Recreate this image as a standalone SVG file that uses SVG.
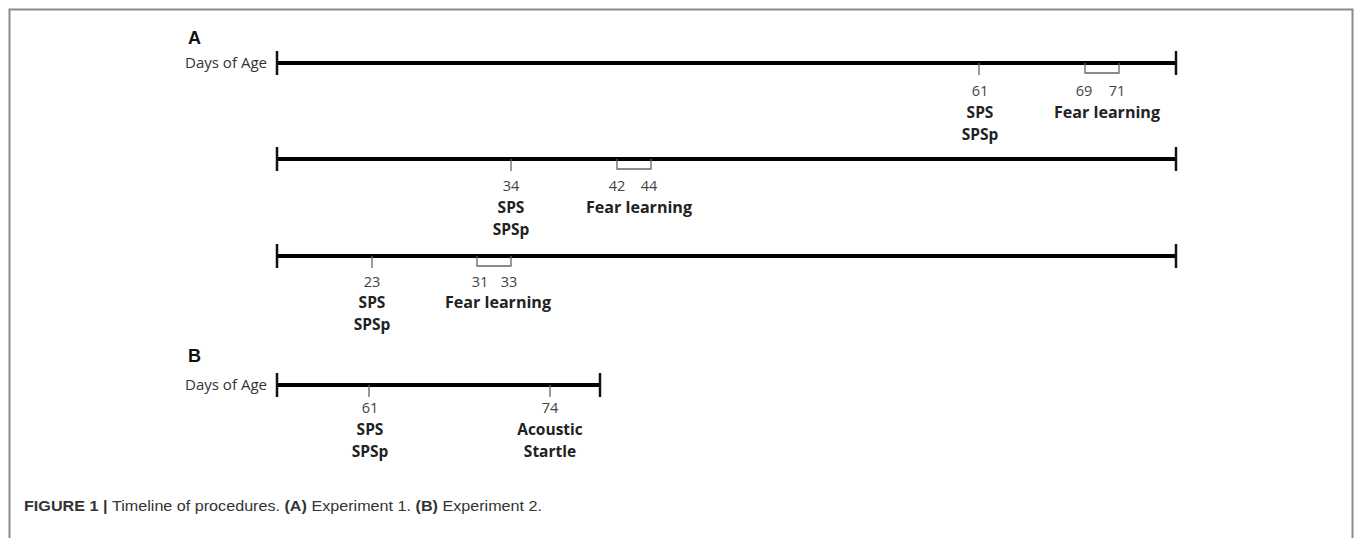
<svg xmlns="http://www.w3.org/2000/svg" width="1355" height="538" viewBox="0 0 1355 538">
<style>
.frame{fill:none;stroke:#8a8a8a;stroke-width:2}
.axis{stroke:#000;stroke-width:4;fill:none}
.end{stroke:#111;stroke-width:2.5;fill:none}
.mark{stroke:#666;stroke-width:1.3;fill:none}
.panel{font-family:"Liberation Sans",Arial,sans-serif;font-weight:bold;font-size:18px;fill:#111}
.dage{font-family:"Open Sans","Lato",sans-serif;font-size:14.5px;fill:#333;text-anchor:end}
.num{font-family:"Open Sans","Lato",sans-serif;font-size:14.5px;fill:#444;text-anchor:middle}
.lbl{font-family:"Open Sans","Lato",sans-serif;font-size:15.5px;font-weight:bold;fill:#222;text-anchor:middle}
.cap{font-family:"Liberation Sans Narrow","Liberation Sans",Arial,sans-serif;font-size:15px;fill:#333}
.cap .b{font-weight:bold}
</style>
<rect class="frame" x="9.5" y="9.5" width="1343" height="560"/>
<text class="panel" x="188" y="44">A</text>
<text class="panel" x="188" y="362">B</text>

<g id="connectors">
  <path class="axis" d="M277 63H1176"/>
  <path class="axis" d="M277 159H1176"/>
  <path class="axis" d="M277 256H1176"/>
  <path class="axis" d="M277 385H600"/>
</g>

<g id="timeline-a1">
  <text class="dage" x="267" y="68" textLength="82" lengthAdjust="spacingAndGlyphs">Days of Age</text>
  <path class="end" d="M277 51V75M1176 51V75"/>
  <path class="mark" d="M979 63V75M1085 63V73H1119V63"/>
  <text class="num" x="980" y="96">61</text>
  <text class="lbl" x="980" y="118">SPS</text>
  <text class="lbl" x="980" y="140">SPSp</text>
  <text class="num" x="1084" y="96">69</text>
  <text class="num" x="1117" y="96">71</text>
  <text class="lbl" x="1107" y="118" textLength="106" lengthAdjust="spacingAndGlyphs">Fear learning</text>
</g>

<g id="timeline-a2">
  <path class="end" d="M277 147V171M1176 147V171"/>
  <path class="mark" d="M511 159V171M617 159V169H651V159"/>
  <text class="num" x="511" y="191">34</text>
  <text class="lbl" x="511" y="213">SPS</text>
  <text class="lbl" x="511" y="235">SPSp</text>
  <text class="num" x="617" y="191">42</text>
  <text class="num" x="649" y="191">44</text>
  <text class="lbl" x="639" y="213" textLength="106" lengthAdjust="spacingAndGlyphs">Fear learning</text>
</g>

<g id="timeline-a3">
  <path class="end" d="M277 244V268M1176 244V268"/>
  <path class="mark" d="M372 256V268M477 256V266H511V256"/>
  <text class="num" x="372" y="287">23</text>
  <text class="lbl" x="372" y="308">SPS</text>
  <text class="lbl" x="372" y="330">SPSp</text>
  <text class="num" x="480" y="287">31</text>
  <text class="num" x="509" y="287">33</text>
  <text class="lbl" x="498" y="308" textLength="106" lengthAdjust="spacingAndGlyphs">Fear learning</text>
</g>

<g id="timeline-b">
  <text class="dage" x="267" y="390" textLength="82" lengthAdjust="spacingAndGlyphs">Days of Age</text>
  <path class="end" d="M277 373V397M600 373V397"/>
  <path class="mark" d="M369 385V397M550 385V397"/>
  <text class="num" x="370" y="413">61</text>
  <text class="lbl" x="370" y="435">SPS</text>
  <text class="lbl" x="370" y="457">SPSp</text>
  <text class="num" x="550" y="413">74</text>
  <text class="lbl" x="550" y="435">Acoustic</text>
  <text class="lbl" x="550" y="457">Startle</text>
</g>

<text class="cap" x="24" y="511" textLength="518" lengthAdjust="spacingAndGlyphs"><tspan class="b">FIGURE 1 | </tspan>Timeline of procedures. <tspan class="b">(A)</tspan> Experiment 1. <tspan class="b">(B)</tspan> Experiment 2.</text>
</svg>
